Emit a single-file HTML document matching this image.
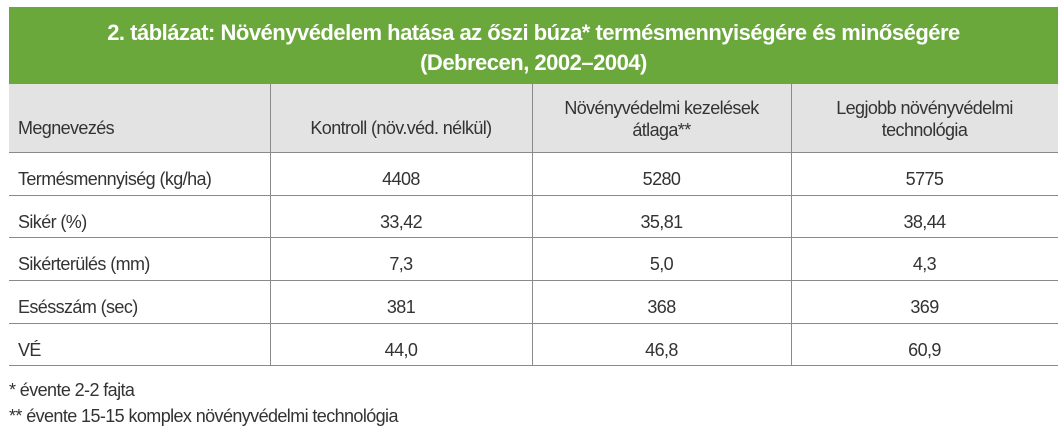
<!DOCTYPE html>
<html><head><meta charset="utf-8"><style>
body{margin:0;width:1064px;height:448px;background:#fff;font-family:"Liberation Sans",sans-serif;color:#333;position:relative;overflow:hidden}
.title{position:absolute;left:9px;top:7px;width:1049px;height:77px;background:#6aa83b;color:#fff;font-weight:bold;font-size:22px;text-align:center;line-height:30px;padding-top:11px;box-sizing:border-box;letter-spacing:-0.5px}
.hdr{position:absolute;left:9px;top:84px;width:1049px;height:68px;background:#e3e3e3}
.hl{position:absolute;left:9px;width:1049px;height:0;border-top:1px solid #8a8a8a}
.vl{position:absolute;top:84px;height:281px;width:0;border-left:1px solid #8a8a8a}
.c{position:absolute;font-size:18px;line-height:22px;letter-spacing:-0.6px}
.ctr{text-align:center}
.fn{position:absolute;left:9px;font-size:18px;letter-spacing:-0.6px}
</style></head><body>
<div class="title">2. táblázat: Növényvédelem hatása az őszi búza* termésmennyiségére és minőségére<br>(Debrecen, 2002–2004)</div>
<div class="hdr"></div>
<div class="hl" style="top:152px"></div>
<div class="hl" style="top:195px"></div>
<div class="hl" style="top:237px"></div>
<div class="hl" style="top:280px"></div>
<div class="hl" style="top:323px"></div>
<div class="hl" style="top:365px"></div>
<div class="vl" style="left:270px"></div>
<div class="vl" style="left:532px"></div>
<div class="vl" style="left:791px"></div>
<div class="c" style="left:18px;top:117px">Megnevezés</div>
<div class="c ctr" style="left:270px;width:262px;top:117px">Kontroll (növ.véd. nélkül)</div>
<div class="c ctr" style="left:532px;width:259px;top:97px">Növényvédelmi kezelések<br>átlaga**</div>
<div class="c ctr" style="left:791px;width:267px;top:97px">Legjobb növényvédelmi<br>technológia</div>
<div id="rows"></div>
<div class="fn" style="top:380px">* évente 2-2 fajta</div>
<div class="fn" style="top:406px">** évente 15-15 komplex növényvédelmi technológia</div>
<script>
const labels=["Termésmennyiség (kg/ha)","Sikér (%)","Sikérterülés (mm)","Esésszám (sec)","VÉ"];
const kontroll=["4408","33,42","7,3","381","44,0"];
const atlag=["5280","35,81","5,0","368","46,8"];
const legjobb=["5775","38,44","4,3","369","60,9"];
const tops=[152,195,237,280,323];
const R=document.getElementById('rows');
function cell(txt,left,w,top,name,ctr){
 const d=document.createElement('div');
 d.className='c'+(ctr?' ctr':'');
 d.style.left=left+'px';if(w)d.style.width=w+'px';d.style.top=(top+16)+'px';
 d.textContent=txt;
 
 
 R.appendChild(d);
}
labels.forEach((l,i)=>{
 cell(l,18,0,tops[i],'row-label',false);
 cell(kontroll[i],270,262,tops[i],'kontroll-value',true);
 cell(atlag[i],532,259,tops[i],'atlag-value',true);
 cell(legjobb[i],791,267,tops[i],'legjobb-value',true);
});
</script>
</body></html>
